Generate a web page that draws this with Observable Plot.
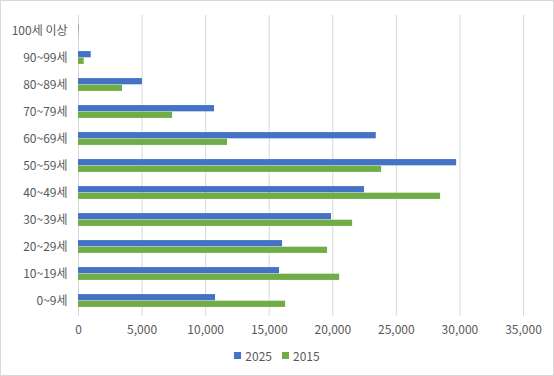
<!DOCTYPE html>
<html><head><meta charset="utf-8">
<script src="https://cdn.jsdelivr.net/npm/d3@7"></script>
<script src="https://cdn.jsdelivr.net/npm/@observablehq/plot@0.6"></script>
<style>
body{margin:0;background:#fff;font-family:"Noto Sans CJK KR","Noto Sans",sans-serif;}
#wrap{position:relative;width:554px;height:376px;overflow:hidden;}
#frame{position:absolute;left:0;top:0;width:554px;height:376px;box-sizing:border-box;border:1px solid #d9d9d9;pointer-events:none;}
#chart{position:absolute;left:0;top:0;}
#legend{position:absolute;top:347px;left:0;width:554px;display:flex;justify-content:center;gap:10px;font-size:12px;color:#595959;}
#legend span.item{display:flex;align-items:center;gap:4px;}
#legend i{display:inline-block;width:7px;height:7px;}
</style></head>
<body>
<div id="wrap"><div id="chart"></div><div id="legend"></div><div id="frame"></div></div>
<script>
const ages = ["100세 이상","90~99세","80~89세","70~79세","60~69세","50~59세","40~49세","30~39세","20~29세","10~19세","0~9세"];
const v2025 = [40, 1000, 5030, 10700, 23420, 29740, 22500, 19900, 16050, 15810, 10780];
const v2015 = [25, 450, 3460, 7400, 11720, 23840, 28480, 21560, 19590, 20540, 16290];
const seriesNames = ["2025","2015"];
const colors = ["#4472C4","#70AD47"];
const xTicks = [0,5000,10000,15000,20000,25000,30000,35000];

const d25 = ages.map((a,i)=>({age:a, value:v2025[i]}));
const d15 = ages.map((a,i)=>({age:a, value:v2015[i]}));

const H = 340, mTop = 15, mBottom = 24;
const band = (H - mTop - mBottom) / ages.length;
const half = band/2, barH = 6.6;

const chart = Plot.plot({
  width: 554, height: H,
  marginLeft: 78, marginRight: 31, marginTop: mTop, marginBottom: mBottom,
  style: {fontFamily: '"Noto Sans CJK KR","Noto Sans",sans-serif', fontSize: "12px", color: "#595959", background: "transparent"},
  x: {domain: [0,35000], ticks: xTicks, tickFormat: d3.format(","), tickSize: 0, tickPadding: 9, label: null},
  y: {domain: ages, padding: 0, tickSize: 0, tickPadding: 11, label: null},
  marks: [
    Plot.gridX(xTicks, {stroke: "#d9d9d9", strokeOpacity: 1}),
    Plot.barX(d25, {x: "value", y: "age", fill: colors[0], insetTop: half - barH, insetBottom: half}),
    Plot.barX(d15, {x: "value", y: "age", fill: colors[1], insetTop: half, insetBottom: half - barH})
  ]
});
document.getElementById("chart").appendChild(chart);

const lg = document.getElementById("legend");
seriesNames.forEach((s,i)=>{
  const it = document.createElement("span"); it.className="item";
  const sw = document.createElement("i"); sw.style.background = colors[i];
  const t = document.createElement("span"); t.textContent = s;
  it.appendChild(sw); it.appendChild(t); lg.appendChild(it);
});
</script>
</body></html>
